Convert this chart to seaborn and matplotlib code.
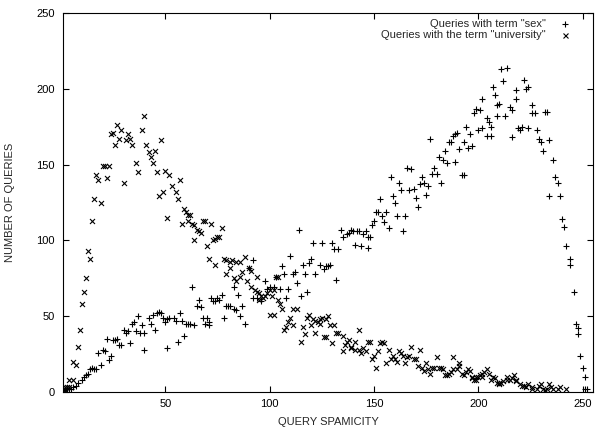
import matplotlib
matplotlib.use("Agg")
import matplotlib.pyplot as plt
import seaborn as sns
import pandas as pd

# ---- data ----
sex_x = [1, 2, 3, 4, 5, 6, 7, 8, 10, 11, 12, 13, 14, 15, 16, 17, 18, 19, 20, 21, 22, 23, 24, 25, 26, 27, 28, 29,
         30, 31, 32, 33, 34, 35, 36, 37, 38, 39, 40, 40, 42, 43, 44, 45, 46, 47, 48, 49, 50, 51, 51, 52, 54, 55,
         56, 57, 58, 59, 60, 61, 62, 63, 64, 65, 66, 67, 68, 69, 70, 71, 71, 72, 73, 74, 75, 76, 77, 78, 79, 80,
         81, 83, 83, 84, 85, 86, 87, 88, 90, 92, 92, 94, 96, 98, 99, 100, 102, 103, 105, 106, 107, 108, 109, 110,
         111, 112, 113, 114, 115, 116, 117, 118, 119, 120, 121, 122, 124, 125, 126, 127, 128, 129, 130, 131, 132,
         133, 134, 135, 137, 138, 139, 140, 141, 142, 143, 144, 145, 146, 147, 147, 148, 149, 150, 151, 152, 153,
         154, 155, 156, 157, 158, 159, 160, 161, 162, 163, 164, 165, 166, 167, 168, 169, 170, 171, 172, 173, 174,
         175, 176, 177, 178, 179, 180, 181, 182, 183, 184, 185, 186, 187, 188, 189, 189, 190, 191, 192, 193, 193,
         194, 195, 196, 197, 198, 199, 200, 201, 202, 202, 204, 204, 205, 206, 206, 207, 208, 209, 209, 210, 211,
         212, 213, 214, 215, 216, 216, 218, 218, 219, 220, 221, 222, 223, 224, 224, 226, 226, 227, 228, 229, 230,
         231, 232, 233, 234, 234, 236, 237, 238, 239, 240, 241, 242, 244, 244, 246, 247, 248, 248, 249, 250, 251,
         251, 252]
sex_y = [1, 1, 2, 2, 2, 3, 4, 6, 8, 10, 11, 12, 15, 16, 15, 15, 26, 18, 28, 27, 35, 21, 24, 34, 34, 35, 31, 31,
         41, 39, 40, 32, 45, 46, 40, 50, 39, 44, 39, 28, 49, 45, 51, 41, 52, 53, 52, 49, 46, 48, 29, 49, 49, 47,
         33, 52, 47, 37, 45, 45, 45, 69, 44, 57, 61, 56, 49, 45, 49, 46, 44, 62, 60, 60, 62, 61, 64, 49, 57, 57,
         57, 55, 69, 54, 64, 50, 57, 45, 82, 87, 62, 62, 60, 73, 68, 69, 69, 76, 68, 83, 78, 62, 68, 90,
         78, 79, 72, 107, 63, 84, 78, 66, 85, 88, 98, 78, 84, 98, 81, 83, 83, 84, 98, 94, 74,
         94, 107, 102, 104, 105, 107, 106, 97, 106, 106, 96, 104, 106, 102, 95, 102, 110, 113, 119, 119, 127,
         116, 112, 119, 108, 142, 129, 125, 116, 138, 133, 106, 116, 148, 133, 147, 134, 128, 122, 137, 142, 138,
         130, 136, 167, 144, 148, 144, 155, 138, 153, 159, 151, 165, 165, 169, 170, 152, 171, 160, 143, 143, 165,
         175, 161, 170, 162, 184, 187, 173, 186, 193, 174, 181, 169, 178, 175, 169, 201, 196, 189, 182, 190, 213,
         205, 182, 214, 188, 186, 168, 199, 193, 174, 173, 175, 206, 200, 201, 174, 189, 184, 184, 173, 167, 165,
         159, 185, 185, 166, 129, 153, 142, 138, 129, 114, 109, 96, 88, 84, 66, 45, 42, 38, 24, 16, 10,
         2, 2]

uni_x = [2, 2, 3, 4, 4, 6, 6, 7, 8, 9, 10, 11, 12, 13, 14, 15, 16, 17, 18, 19, 20, 21, 22, 23, 24, 25, 26, 27,
         28, 29, 30, 31, 32, 33, 34, 36, 37, 39, 40, 41, 42, 43, 44, 45, 46, 47, 48, 49, 50, 51, 52, 53, 55, 56,
         57, 58, 59, 60, 61, 61, 62, 63, 64, 64, 65, 66, 67, 68, 69, 70, 71, 72, 73, 74, 74, 75, 76, 77, 78, 79,
         79, 81, 81, 82, 83, 84, 84, 86, 86, 87, 88, 89, 90, 91, 91, 93, 94, 94, 95, 95, 96, 97, 98, 99, 100, 100,
         101, 102, 102, 103, 104, 104, 105, 106, 107, 108, 109, 110, 111, 111, 113, 115, 116, 117, 118, 119, 120,
         121, 122, 122, 123, 124, 124, 125, 126, 127, 127, 128, 129, 130, 131, 132, 133, 135, 135, 136, 137, 138,
         139, 139, 141, 141, 143, 143, 144, 145, 146, 147, 148, 149, 150, 151, 152, 153, 154, 155, 156, 157, 158,
         159, 160, 161, 162, 163, 164, 165, 166, 167, 168, 169, 170, 171, 172, 173, 174, 175, 176, 177, 178, 179,
         180, 181, 182, 183, 184, 185, 186, 187, 188, 188, 190, 191, 191, 192, 193, 194, 195, 196, 197, 197, 198,
         199, 199, 200, 201, 202, 202, 203, 204, 205, 206, 207, 208, 209, 210, 210, 211, 212, 214, 214, 215, 216,
         217, 218, 218, 220, 221, 222, 223, 224, 226, 226, 228, 229, 230, 231, 232, 233, 234, 235, 236, 238, 239,
         242]
uni_y = [1, 3, 3, 3, 8, 8, 20, 18, 30, 41, 58, 66, 75, 93, 88, 113, 127, 143, 140, 125, 149, 149, 141, 149, 170,
         171, 163, 176,
         167, 173, 138, 166, 170, 167, 163, 151, 145, 173, 182, 163, 158, 155, 151, 159, 145, 129, 166, 132, 146,
         115, 143, 136, 132, 127,
         140, 111, 121, 119, 113, 117, 117, 111, 110, 100, 107, 106, 105, 113, 113, 96, 88, 111, 100, 101, 84, 102,
         102, 108, 88, 87,
         78, 86, 82, 87, 75, 73, 86, 86, 76, 79, 89, 73, 82, 69, 80, 67, 76, 66, 65, 61, 63, 62, 63, 65, 67, 51,
         63, 67, 51, 76, 76, 61, 58, 55, 41, 43, 46, 49, 55, 44, 55, 33, 43, 38, 49, 51, 44,
         48, 47, 39, 46, 48, 45, 49, 36, 48, 36, 50, 44, 32, 44, 39, 39, 37, 27, 31, 33, 34,
         30, 29, 33, 28, 28, 41, 26, 29, 27, 33, 33, 22, 24, 16, 27, 32, 33, 32, 19, 28, 22,
         24, 22, 20, 27, 26, 24, 19, 23, 24, 30, 22, 22, 17, 28, 16, 14, 19, 15, 12, 16, 16,
         23, 16, 16, 15, 11, 11, 12, 13, 23, 15, 15, 17, 19, 12, 11, 13, 15, 14, 9, 10, 8,
         10, 8, 10, 11, 12, 10, 13, 15, 12, 8, 10, 9, 6, 5, 6, 6, 7, 8, 10, 8, 9,
         11, 8, 7, 5, 4, 4, 3, 5, 2, 3, 2, 4, 5, 2, 1, 2, 5, 3, 2, 2, 3,
         2]

label_sex = 'Queries with term "sex"'
label_uni = 'Queries with the term "university"'
xticks = [50, 100, 150, 200, 250]
yticks = [0, 50, 100, 150, 200, 250]

sex_df = pd.DataFrame({"spamicity": sex_x, "queries": sex_y})
uni_df = pd.DataFrame({"spamicity": uni_x, "queries": uni_y})

sns.set_style("ticks")
plt.rcParams["font.family"] = ["Liberation Sans", "DejaVu Sans"]

fig = plt.figure(figsize=(5.95, 4.28), dpi=100)
ax = fig.add_axes([63 / 595, 36 / 428, 530 / 595, 379 / 428])

sns.scatterplot(data=sex_df, x="spamicity", y="queries", marker="+", s=18,
                color="black", linewidth=0.8, ax=ax, legend=False)
sns.scatterplot(data=uni_df, x="spamicity", y="queries", marker="x", s=13,
                color="black", linewidth=0.8, ax=ax, legend=False)

ax.set_xlim(1, 255)
ax.set_ylim(0, 250)
ax.set_xticks(xticks)
ax.set_yticks(yticks)
ax.tick_params(direction="in", top=True, right=True, length=4, width=0.8,
               labelsize=8, colors="black")
ax.tick_params(axis="x", pad=5)
ax.tick_params(axis="y", pad=6)
for sp in ax.spines.values():
    sp.set_visible(True)
    sp.set_linewidth(0.8)
    sp.set_color("black")

ax.set_xlabel("QUERY SPAMICITY", fontsize=8)
ax.set_ylabel("NUMBER OF QUERIES", fontsize=8)
ax.xaxis.set_label_coords(0.5, -0.066)
ax.yaxis.set_label_coords(-0.09, 0.5)

# gnuplot-style key: right-aligned text, marker to the right
for ypos, lab, mk, ms in [(0.971, label_sex, "+", 4.3), (0.942, label_uni, "x", 3.6)]:
    ax.text(0.911, ypos, lab, transform=ax.transAxes, ha="right", va="center", fontsize=8)
    ax.plot([0.947], [ypos], marker=mk, color="black", ms=ms, mew=0.8,
            linestyle="none", transform=ax.transAxes, clip_on=False)

fig.savefig("out.png", dpi=100)
